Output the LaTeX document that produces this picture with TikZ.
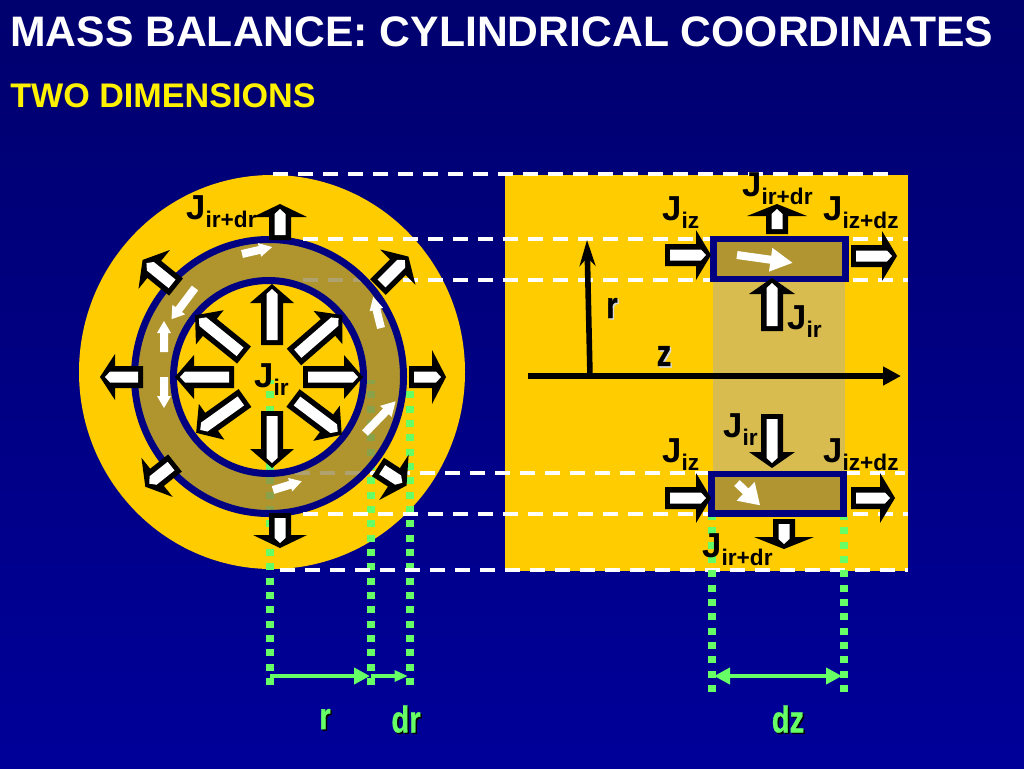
\documentclass[tikz,border=0pt]{standalone}
\usepackage{fontspec}
\setmainfont{Liberation Sans}
\usetikzlibrary{arrows.meta,positioning}

\definecolor{gold}{HTML}{FFCC00}
\definecolor{ringbrown}{RGB}{150,131,64}
\definecolor{boxbrown}{HTML}{B09530}
\definecolor{bandtan}{HTML}{D9BC50}
\definecolor{ringnavy}{HTML}{000080}
\definecolor{dotgreen}{HTML}{66FF66}

% black block arrow: tail x, tail y, angle, length, head length, half head width
\newcommand{\fluxarrow}[6]{
  \begin{scope}[shift={(#1,#2)},rotate=#3]
    \fill[black] (0,-11) -- ({#4-#5},-11) -- ({#4-#5},-#6) -- (#4,0)
      -- ({#4-#5},#6) -- ({#4-#5},11) -- (0,11) -- cycle;
    \fill[white] (5,-5.5) -- ({#4-10},-5.5) -- ({#4-5},0) -- ({#4-10},5.5) -- (5,5.5) -- cycle;
  \end{scope}}
% white arrow without outline: tail x, tail y, angle, length, head length, half head width
\newcommand{\whitearrow}[6]{
  \begin{scope}[shift={(#1,#2)},rotate=#3]
    \fill[white] (0,-4) -- ({#4-#5},-4) -- ({#4-#5},-#6) -- (#4,0)
      -- ({#4-#5},#6) -- ({#4-#5},4) -- (0,4) -- cycle;
  \end{scope}}
\newcommand{\jlabel}[1]{J\raisebox{-6pt}{\fontsize{17}{17}\selectfont #1}}
\newcommand{\narrow}[1]{\scalebox{.78}[1]{\addfontfeatures{FakeBold=1}#1}}

\begin{document}
\begin{tikzpicture}[x=0.75pt,y=-0.75pt,
  whitedash/.style={white,line width=3pt,dash pattern=on 11.25pt off 7.5pt},
  greendots/.style={dotgreen,line width=5.4pt,dash pattern=on 5.25pt off 5.5pt},
  greenline/.style={dotgreen,line width=3.6pt},
  navyline/.style={draw=ringnavy,line width=5.25pt},
  flux/.style={font=\bfseries\fontsize{26}{26}\selectfont,inner sep=0pt},
  axislabel/.style={font=\bfseries\fontsize{28}{28}\selectfont,inner sep=0pt},
  sizelabel/.style={axislabel,text=dotgreen}]

  \useasboundingbox (0,0) rectangle (1024,768);
  \shade[top color={rgb,255:red,0;green,0;blue,110},
    bottom color={rgb,255:red,0;green,0;blue,153}] (0,0) rectangle (1024,768);

  \node[anchor=west,inner sep=0pt,text=white,font=\bfseries\fontsize{32}{32}\selectfont] (title)
    at (10,32) {MASS BALANCE: CYLINDRICAL COORDINATES};
  \node[anchor=west,inner sep=0pt,text=yellow,font=\bfseries\fontsize{25.6}{26}\selectfont] (subtitle)
    at (10,96) {TWO DIMENSIONS};

  % cross section and side view
  \fill[gold] (272,372) ellipse (193 and 197);
  \fill[gold] (505,175) rectangle (908,571);
  \fill[bandtan] (713,282) rectangle (845,471);
  \draw[whitedash] (303,280) -- (908,280);
  \draw[whitedash] (295,473) -- (905,473);
  \draw[greendots] (270,685) -- (270,380);
  \draw[greendots] (371,685) -- (371,380);
  \draw[greendots] (410,685) -- (410,390);
  \fill[ringbrown,opacity=.75,even odd rule] (269,376.5) ellipse (135 and 137) (268.5,377) ellipse (95 and 97);
  \draw[navyline] (269,376.5) ellipse (134.5 and 137);
  \draw[navyline] (268.5,377) ellipse (95 and 96.5);

  \draw[whitedash] (273,174) -- (890,174);
  \foreach \dy in {239,514}
    \draw[whitedash] (303,\dy) -- (908,\dy);
  \draw[whitedash] (280,570) -- (908,570);

  \fill[ringnavy] (710,236) rectangle (849,282);
  \fill[boxbrown] (717,242) rectangle (842,276);
  \fill[ringnavy] (708,471) rectangle (847,517);
  \fill[boxbrown] (715,477) rectangle (840,510);
  \draw[greendots] (712,692) -- (712,517);
  \draw[greendots] (844,692) -- (844,517);

  \draw[line width=4.4pt,-{Triangle[length=13.5pt,width=13.5pt]}] (528,376) -- (901,376);
  \draw[line width=4.2pt,-{Stealth[length=19.5pt,width=12pt]}] (590,376) -- (587,240);

  % tail x/tail y/angle/length/head/half width
  \foreach \ax/\ay/\aang/\alen/\ahead/\awing in {
    272/345/90/61/19/22, 272/411/-90/57/19/22, 234/377/180/59/19/22, 303/377/0/60/19/22,
    294/357/41/64/19/22, 244/355/141/63/19/22, 245/398/215.5/60/19/22, 293/398/-37/61/19/22,
    280/240/90/36/13/27, 280/513/-90/35/13/27, 143/377/180/43/15/23, 409/377/0/37/14/27,
    378/287/45/43/15/25, 176/287/141/43/15/25, 175/463/218.6/38/15/25, 378/467/-33/34/15/27,
    665/255/0/46/15/25, 851/256/0/46/15/25, 777/234/90/30/12/30, 772/331/90/53/16/23,
    772/414/-90/54/16/23, 665/498/0/46/15/25, 851/498/0/44/15/25, 784/519/-90/30/12/30}
    \fluxarrow{\ax}{\ay}{\aang}{\alen}{\ahead}{\awing};

  \foreach \ax/\ay/\aang/\alen/\ahead/\awing in {
    242/254/13/31/13/7, 195/288/233/39/12/8, 164/352/90/31/12/7, 164/377/-90/31/12/7,
    381/328/104/32/13/7, 365/433/46/44/14/8, 273/490/17/30/12/7,
    737/255/-8/56/22/12, 737/483/-44/32/20/13}
    \whitearrow{\ax}{\ay}{\aang}{\alen}{\ahead}{\awing};

  % labels
  \node[flux,anchor=west] (jouter) at (186,212) {\jlabel{ir+dr}};
  \node[flux,anchor=west] (jinner) at (254,380) {\jlabel{ir}};
  \node[flux,anchor=west] (jtop) at (742,189) {\jlabel{ir+dr}};
  \node[flux,anchor=west] (jztop) at (662,213) {\jlabel{iz}};
  \node[flux,anchor=west] (jzdtop) at (823,213) {\jlabel{iz+dz}};
  \node[flux,anchor=west] (jrtop) at (787,322) {\jlabel{ir}};
  \node[flux,anchor=west] (jrbot) at (723,430) {\jlabel{ir}};
  \node[flux,anchor=west] (jzbot) at (662,455) {\jlabel{iz}};
  \node[flux,anchor=west] (jzdbot) at (823,455) {\jlabel{iz+dz}};
  \node[flux,anchor=west] (jbot) at (702,550) {\jlabel{ir+dr}};

  \node[axislabel,text=white!70!gray] (rshadow) at (613.5,309.5) {\narrow{r}};
  \node[axislabel] (rlabel) at (612,308) {\narrow{r}};
  \node[axislabel,text=white!70!gray] (zshadow) at (665.5,357.5) {\narrow{z}};
  \node[axislabel] (zlabel) at (664,356) {\narrow{z}};

  % size arrows
  \draw[greenline,-{Triangle[length=12pt,width=12pt]}] (270,676) -- (370,676);
  \draw[greenline,-{Triangle[length=10pt,width=8pt]}] (371,676) -- (408,676);
  \draw[greenline,{Triangle[length=12pt,width=12pt]}-{Triangle[length=12pt,width=12pt]}] (714,676) -- (842,676);
  \node[sizelabel,text=black] (rsizeshadow) at (326.5,720.5) {\narrow{r}};
  \node[sizelabel] (rsize) at (325,719) {\narrow{r}};
  \node[sizelabel,text=black] (drshadow) at (407.5,720.5) {\narrow{dr}};
  \node[sizelabel] (drsize) at (406,719) {\narrow{dr}};
  \node[sizelabel,text=black] (dzshadow) at (789.5,720.5) {\narrow{dz}};
  \node[sizelabel] (dzsize) at (788,719) {\narrow{dz}};
\end{tikzpicture}
\end{document}
